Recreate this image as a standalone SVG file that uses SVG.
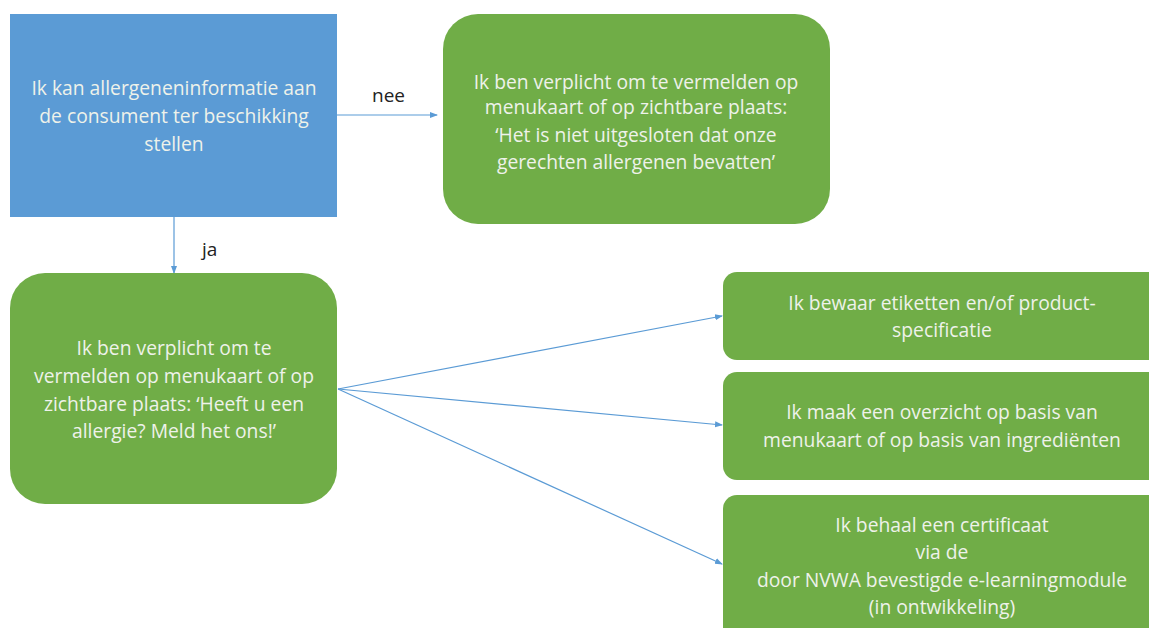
<svg xmlns="http://www.w3.org/2000/svg" width="1149" height="628" viewBox="0 0 1149 628">
<defs>
<style>
.blue{fill:#5B9BD5;}
.green{fill:#70AD47;}
.t{font-family:"Open Sans","Liberation Sans",sans-serif;font-size:19.3px;fill:#EEF2EA;text-anchor:middle;}
.lbl{font-family:"Open Sans","Liberation Sans",sans-serif;font-size:19px;fill:#222;}
.c{stroke:#5B9BD5;stroke-width:1.2;fill:none;marker-end:url(#ah);}
</style>
<marker id="ah" markerWidth="8" markerHeight="8" refX="7" refY="4" orient="auto" markerUnits="userSpaceOnUse">
<path d="M0,1 L8,4 L0,7 Z" fill="#5B9BD5"/>
</marker>
</defs>
<rect width="1149" height="628" fill="#fff"/>
<g id="connectors">
<line class="c" x1="337" y1="115" x2="437" y2="115"/>
<line class="c" x1="174" y1="217" x2="174" y2="273"/>
<line class="c" x1="338" y1="389" x2="722" y2="316"/>
<line class="c" x1="338" y1="389" x2="722" y2="425"/>
<line class="c" x1="338" y1="389" x2="722" y2="564"/>
<text class="lbl" x="372" y="102">nee</text>
<text class="lbl" x="202" y="256">ja</text>
</g>
<g id="n1">
<rect class="blue" x="10" y="14" width="327" height="203"/>
<text class="t" x="174" y="95">Ik kan allergeneninformatie aan</text>
<text class="t" x="174" y="123">de consument ter beschikking</text>
<text class="t" x="174" y="151">stellen</text>
</g>
<g id="n2">
<rect class="green" x="443" y="14" width="387" height="210" rx="35"/>
<text class="t" x="636" y="89">Ik ben verplicht om te vermelden op</text>
<text class="t" x="636" y="114">menukaart of op zichtbare plaats:</text>
<text class="t" x="636" y="142">‘Het is niet uitgesloten dat onze</text>
<text class="t" x="636" y="169">gerechten allergenen bevatten’</text>
</g>
<g id="n3">
<rect class="green" x="10" y="273" width="327" height="231" rx="35"/>
<text class="t" x="174" y="355">Ik ben verplicht om te</text>
<text class="t" x="174" y="383">vermelden op menukaart of op</text>
<text class="t" x="174" y="411">zichtbare plaats: ‘Heeft u een</text>
<text class="t" x="174" y="438">allergie? Meld het ons!’</text>
</g>
<g id="n4">
<rect class="green" x="723" y="272" width="440" height="88" rx="14"/>
<text class="t" x="942" y="310">Ik bewaar etiketten en/of product-</text>
<text class="t" x="942" y="337">specificatie</text>
</g>
<g id="n5">
<rect class="green" x="723" y="372" width="440" height="108" rx="14"/>
<text class="t" x="942" y="419">Ik maak een overzicht op basis van</text>
<text class="t" x="942" y="447">menukaart of op basis van ingrediënten</text>
</g>
<g id="n6">
<rect class="green" x="723" y="495" width="440" height="150" rx="14"/>
<text class="t" x="942" y="532">Ik behaal een certificaat</text>
<text class="t" x="942" y="559">via de</text>
<text class="t" x="942" y="587">door NVWA bevestigde e-learningmodule</text>
<text class="t" x="942" y="614">(in ontwikkeling)</text>
</g>
</svg>
